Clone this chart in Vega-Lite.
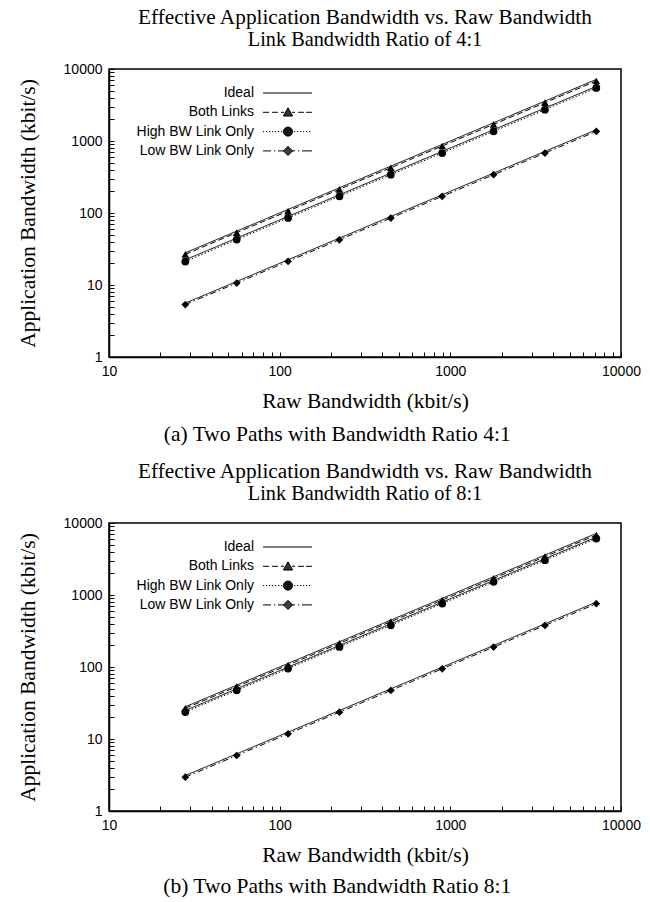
{
  "$schema": "https://vega.github.io/schema/vega-lite/v6.json",
  "padding": {"left": 16, "top": 6, "right": 5, "bottom": 2},
  "spacing": 14,
  "datasets": {
    "a": [
      {"s":"Ideal","l":"It","x":28,"y":28},{"s":"Ideal","l":"It","x":56,"y":56},{"s":"Ideal","l":"It","x":112,"y":112},{"s":"Ideal","l":"It","x":224,"y":224},{"s":"Ideal","l":"It","x":448,"y":448},{"s":"Ideal","l":"It","x":896,"y":896},{"s":"Ideal","l":"It","x":1792,"y":1792},{"s":"Ideal","l":"It","x":3584,"y":3584},{"s":"Ideal","l":"It","x":7168,"y":7168},
      {"s":"Ideal","l":"Ih","x":28,"y":22.4},{"s":"Ideal","l":"Ih","x":56,"y":44.8},{"s":"Ideal","l":"Ih","x":112,"y":89.6},{"s":"Ideal","l":"Ih","x":224,"y":179.2},{"s":"Ideal","l":"Ih","x":448,"y":358.4},{"s":"Ideal","l":"Ih","x":896,"y":716.8},{"s":"Ideal","l":"Ih","x":1792,"y":1433.6},{"s":"Ideal","l":"Ih","x":3584,"y":2867.2},{"s":"Ideal","l":"Ih","x":7168,"y":5734.4},
      {"s":"Ideal","l":"Il","x":28,"y":5.6},{"s":"Ideal","l":"Il","x":56,"y":11.2},{"s":"Ideal","l":"Il","x":112,"y":22.4},{"s":"Ideal","l":"Il","x":224,"y":44.8},{"s":"Ideal","l":"Il","x":448,"y":89.6},{"s":"Ideal","l":"Il","x":896,"y":179.2},{"s":"Ideal","l":"Il","x":1792,"y":358.4},{"s":"Ideal","l":"Il","x":3584,"y":716.8},{"s":"Ideal","l":"Il","x":7168,"y":1433.6},
      {"s":"Both Links","l":"B","x":28,"y":26.6},{"s":"Both Links","l":"B","x":56,"y":53.4},{"s":"Both Links","l":"B","x":112,"y":106.3},{"s":"Both Links","l":"B","x":224,"y":213.5},{"s":"Both Links","l":"B","x":448,"y":425},{"s":"Both Links","l":"B","x":896,"y":852},{"s":"Both Links","l":"B","x":1792,"y":1701},{"s":"Both Links","l":"B","x":3584,"y":3405},{"s":"Both Links","l":"B","x":7168,"y":6815},
      {"s":"High BW Link Only","l":"H","x":28,"y":21.2},{"s":"High BW Link Only","l":"H","x":56,"y":42.7},{"s":"High BW Link Only","l":"H","x":112,"y":85.3},{"s":"High BW Link Only","l":"H","x":224,"y":170.4},{"s":"High BW Link Only","l":"H","x":448,"y":341},{"s":"High BW Link Only","l":"H","x":896,"y":681},{"s":"High BW Link Only","l":"H","x":1792,"y":1361},{"s":"High BW Link Only","l":"H","x":3584,"y":2722},{"s":"High BW Link Only","l":"H","x":7168,"y":5450},
      {"s":"Low BW Link Only","l":"L","x":28,"y":5.35},{"s":"Low BW Link Only","l":"L","x":56,"y":10.65},{"s":"Low BW Link Only","l":"L","x":112,"y":21.3},{"s":"Low BW Link Only","l":"L","x":224,"y":42.5},{"s":"Low BW Link Only","l":"L","x":448,"y":85.1},{"s":"Low BW Link Only","l":"L","x":896,"y":170.2},{"s":"Low BW Link Only","l":"L","x":1792,"y":340},{"s":"Low BW Link Only","l":"L","x":3584,"y":680},{"s":"Low BW Link Only","l":"L","x":7168,"y":1360}
    ],
    "b": [
      {"s":"Ideal","l":"It","x":28,"y":28},{"s":"Ideal","l":"It","x":56,"y":56},{"s":"Ideal","l":"It","x":112,"y":112},{"s":"Ideal","l":"It","x":224,"y":224},{"s":"Ideal","l":"It","x":448,"y":448},{"s":"Ideal","l":"It","x":896,"y":896},{"s":"Ideal","l":"It","x":1792,"y":1792},{"s":"Ideal","l":"It","x":3584,"y":3584},{"s":"Ideal","l":"It","x":7168,"y":7168},
      {"s":"Ideal","l":"Ih","x":28,"y":24.9},{"s":"Ideal","l":"Ih","x":56,"y":49.8},{"s":"Ideal","l":"Ih","x":112,"y":99.6},{"s":"Ideal","l":"Ih","x":224,"y":199.1},{"s":"Ideal","l":"Ih","x":448,"y":398.2},{"s":"Ideal","l":"Ih","x":896,"y":796.4},{"s":"Ideal","l":"Ih","x":1792,"y":1592.9},{"s":"Ideal","l":"Ih","x":3584,"y":3185.8},{"s":"Ideal","l":"Ih","x":7168,"y":6371.6},
      {"s":"Ideal","l":"Il","x":28,"y":3.11},{"s":"Ideal","l":"Il","x":56,"y":6.22},{"s":"Ideal","l":"Il","x":112,"y":12.44},{"s":"Ideal","l":"Il","x":224,"y":24.89},{"s":"Ideal","l":"Il","x":448,"y":49.78},{"s":"Ideal","l":"Il","x":896,"y":99.56},{"s":"Ideal","l":"Il","x":1792,"y":199.1},{"s":"Ideal","l":"Il","x":3584,"y":398.2},{"s":"Ideal","l":"Il","x":7168,"y":796.4},
      {"s":"Both Links","l":"B","x":28,"y":26.7},{"s":"Both Links","l":"B","x":56,"y":53.3},{"s":"Both Links","l":"B","x":112,"y":106.5},{"s":"Both Links","l":"B","x":224,"y":213},{"s":"Both Links","l":"B","x":448,"y":426},{"s":"Both Links","l":"B","x":896,"y":851},{"s":"Both Links","l":"B","x":1792,"y":1703},{"s":"Both Links","l":"B","x":3584,"y":3404},{"s":"Both Links","l":"B","x":7168,"y":6810},
      {"s":"High BW Link Only","l":"H","x":28,"y":23.7},{"s":"High BW Link Only","l":"H","x":56,"y":47.5},{"s":"High BW Link Only","l":"H","x":112,"y":95.1},{"s":"High BW Link Only","l":"H","x":224,"y":190.2},{"s":"High BW Link Only","l":"H","x":448,"y":380},{"s":"High BW Link Only","l":"H","x":896,"y":761},{"s":"High BW Link Only","l":"H","x":1792,"y":1522},{"s":"High BW Link Only","l":"H","x":3584,"y":3044},{"s":"High BW Link Only","l":"H","x":7168,"y":6090},
      {"s":"Low BW Link Only","l":"L","x":28,"y":2.95},{"s":"Low BW Link Only","l":"L","x":56,"y":5.9},{"s":"Low BW Link Only","l":"L","x":112,"y":11.8},{"s":"Low BW Link Only","l":"L","x":224,"y":23.6},{"s":"Low BW Link Only","l":"L","x":448,"y":47.2},{"s":"Low BW Link Only","l":"L","x":896,"y":94.4},{"s":"Low BW Link Only","l":"L","x":1792,"y":189},{"s":"Low BW Link Only","l":"L","x":3584,"y":378},{"s":"Low BW Link Only","l":"L","x":7168,"y":756}
    ]
  },
  "vconcat": [
    {
      "title": {"text": "(a) Two Paths with Bandwidth Ratio 4:1", "orient": "bottom", "anchor": "middle", "offset": 12, "dx": -19, "fontSize": 21.5},
      "vconcat": [
        {
          "width": 512, "height": 288,
          "title": {"text": "Effective Application Bandwidth vs. Raw Bandwidth", "subtitle": "Link Bandwidth Ratio of 4:1"},
          "data": {"name": "a"},
          "encoding": {
            "x": {"field": "x", "type": "quantitative", "scale": {"type": "log", "domain": [10, 10000], "nice": false},
              "axis": {"title": "Raw Bandwidth (kbit/s)", "ticks": true, "tickSize": -5, "tickColor": "black", "tickOpacity": 1, "tickWidth": 1, "values": [10,20,30,40,50,60,70,80,90,100,200,300,400,500,600,700,800,900,1000,2000,3000,4000,5000,6000,7000,8000,9000,10000], "format": "d", "labelExpr": "indexof([10,100,1000,10000], datum.value) >= 0 ? datum.label : ''",
                "encode": {"ticks": {"update": {"y2": {"signal": "indexof([10,100,1000,10000], datum.value) >= 0 ? -10 : -5"}}}}}},
            "y": {"field": "y", "type": "quantitative", "scale": {"type": "log", "domain": [1, 10000], "nice": false},
              "axis": {"title": "Application Bandwidth (kbit/s)", "ticks": true, "tickSize": -5, "tickColor": "black", "tickOpacity": 1, "tickWidth": 1, "values": [1,2,3,4,5,6,7,8,9,10,20,30,40,50,60,70,80,90,100,200,300,400,500,600,700,800,900,1000,2000,3000,4000,5000,6000,7000,8000,9000,10000], "format": "d", "labelExpr": "indexof([1,10,100,1000,10000], datum.value) >= 0 ? datum.label : ''",
                "encode": {"ticks": {"update": {"x2": {"signal": "indexof([1,10,100,1000,10000], datum.value) >= 0 ? 10 : 5"}}}}}}
          },
          "layer": [
            {
              "mark": {"type": "line", "color": "black", "strokeWidth": 1},
              "encoding": {
                "detail": {"field": "l"},
                "strokeDash": {"field": "s", "type": "nominal", "legend": null,
                  "scale": {"domain": ["Ideal", "Both Links", "High BW Link Only", "Low BW Link Only"], "range": [[1, 0], [6, 3], [1.5, 2], [6, 3, 1.5, 3]]}}
              }
            },
            {
              "transform": [{"filter": "datum.s != 'Ideal'"}],
              "mark": {"type": "point", "filled": true, "color": "black", "opacity": 1, "size": 60},
              "encoding": {
                "shape": {"field": "s", "type": "nominal", "legend": null,
                  "scale": {"domain": ["Both Links", "High BW Link Only", "Low BW Link Only"], "range": ["triangle-up", "circle", "diamond"]}}
              }
            },
            {
              "mark": {"type": "point", "filled": false, "color": "black", "strokeWidth": 1, "opacity": 0},
              "encoding": {
                "shape": {"field": "s", "type": "nominal",
                  "scale": {"domain": ["Ideal", "Both Links", "High BW Link Only", "Low BW Link Only"],
                    "range": [
                      "M26.4,0L36.2,0",
                      "M26.4,0L27.6,0M28.2,0L29.4,0M30,0L30.6,0M32.2,0L32.8,0M33.4,0L34.6,0M35,0L36.2,0M30.5,0.7L31.4,-0.9L32.3,0.7ZM30.5,0.7L32.3,0.7M30.61,0.5L32.19,0.5M30.73,0.3L32.07,0.3M30.84,0.1L31.96,0.1M30.95,-0.1L31.85,-0.1M31.06,-0.3L31.74,-0.3M31.18,-0.5L31.62,-0.5M31.29,-0.7L31.51,-0.7",
                      "M26.4,0L26.65,0M27,0L27.25,0M27.6,0L27.85,0M28.2,0L28.45,0M28.8,0L29.05,0M29.4,0L29.65,0M30,0L30.25,0M32.6,0L32.85,0M33.2,0L33.45,0M33.8,0L34.05,0M34.4,0L34.65,0M35,0L35.25,0M35.6,0L35.85,0M30.5,0A0.9,0.9 0 1,0 32.3,0A0.9,0.9 0 1,0 30.5,0ZM30.5,0L32.3,0M30.52,0.2L32.28,0.2M30.52,-0.2L32.28,-0.2M30.59,0.4L32.21,0.4M30.59,-0.4L32.21,-0.4M30.73,0.6L32.07,0.6M30.73,-0.6L32.07,-0.6M30.99,0.8L31.81,0.8M30.99,-0.8L31.81,-0.8",
                      "M26.4,0L28,0M28.6,0L28.85,0M29.4,0L30.6,0M32.2,0L32.8,0M33.4,0L33.65,0M34.2,0L36.2,0M31.4,-0.9L32.3,0L31.4,0.9L30.5,0ZM30.5,0L32.3,0M30.7,0.2L32.1,0.2M30.7,-0.2L32.1,-0.2M30.9,0.4L31.9,0.4M30.9,-0.4L31.9,-0.4M31.1,0.6L31.7,0.6M31.1,-0.6L31.7,-0.6M31.3,0.8L31.5,0.8M31.3,-0.8L31.5,-0.8"
                    ]},
                  "legend": {"title": null, "orient": "none", "legendX": 15, "legendY": 17, "labelAlign": "right", "labelOffset": 116, "symbolSize": 100, "rowPadding": 5.3, "padding": 0,
                    "symbolStrokeColor": "black", "symbolStrokeWidth": 1, "symbolOpacity": 1}
                }
              }
            }
          ],
          "resolve": {"scale": {"shape": "independent"}}
        }
      ]
    },
    {
      "title": {"text": "(b) Two Paths with Bandwidth Ratio 8:1", "orient": "bottom", "anchor": "middle", "offset": 10, "dx": -19, "fontSize": 21.5},
      "vconcat": [
        {
          "width": 512, "height": 288,
          "title": {"text": "Effective Application Bandwidth vs. Raw Bandwidth", "subtitle": "Link Bandwidth Ratio of 8:1"},
          "data": {"name": "b"},
          "encoding": {
            "x": {"field": "x", "type": "quantitative", "scale": {"type": "log", "domain": [10, 10000], "nice": false},
              "axis": {"title": "Raw Bandwidth (kbit/s)", "ticks": true, "tickSize": -5, "tickColor": "black", "tickOpacity": 1, "tickWidth": 1, "values": [10,20,30,40,50,60,70,80,90,100,200,300,400,500,600,700,800,900,1000,2000,3000,4000,5000,6000,7000,8000,9000,10000], "format": "d", "labelExpr": "indexof([10,100,1000,10000], datum.value) >= 0 ? datum.label : ''",
                "encode": {"ticks": {"update": {"y2": {"signal": "indexof([10,100,1000,10000], datum.value) >= 0 ? -10 : -5"}}}}}},
            "y": {"field": "y", "type": "quantitative", "scale": {"type": "log", "domain": [1, 10000], "nice": false},
              "axis": {"title": "Application Bandwidth (kbit/s)", "ticks": true, "tickSize": -5, "tickColor": "black", "tickOpacity": 1, "tickWidth": 1, "values": [1,2,3,4,5,6,7,8,9,10,20,30,40,50,60,70,80,90,100,200,300,400,500,600,700,800,900,1000,2000,3000,4000,5000,6000,7000,8000,9000,10000], "format": "d", "labelExpr": "indexof([1,10,100,1000,10000], datum.value) >= 0 ? datum.label : ''",
                "encode": {"ticks": {"update": {"x2": {"signal": "indexof([1,10,100,1000,10000], datum.value) >= 0 ? 10 : 5"}}}}}}
          },
          "layer": [
            {
              "mark": {"type": "line", "color": "black", "strokeWidth": 1},
              "encoding": {
                "detail": {"field": "l"},
                "strokeDash": {"field": "s", "type": "nominal", "legend": null,
                  "scale": {"domain": ["Ideal", "Both Links", "High BW Link Only", "Low BW Link Only"], "range": [[1, 0], [6, 3], [1.5, 2], [6, 3, 1.5, 3]]}}
              }
            },
            {
              "transform": [{"filter": "datum.s != 'Ideal'"}],
              "mark": {"type": "point", "filled": true, "color": "black", "opacity": 1, "size": 60},
              "encoding": {
                "shape": {"field": "s", "type": "nominal", "legend": null,
                  "scale": {"domain": ["Both Links", "High BW Link Only", "Low BW Link Only"], "range": ["triangle-up", "circle", "diamond"]}}
              }
            },
            {
              "mark": {"type": "point", "filled": false, "color": "black", "strokeWidth": 1, "opacity": 0},
              "encoding": {
                "shape": {"field": "s", "type": "nominal",
                  "scale": {"domain": ["Ideal", "Both Links", "High BW Link Only", "Low BW Link Only"],
                    "range": [
                      "M26.4,0L36.2,0",
                      "M26.4,0L27.6,0M28.2,0L29.4,0M30,0L30.6,0M32.2,0L32.8,0M33.4,0L34.6,0M35,0L36.2,0M30.5,0.7L31.4,-0.9L32.3,0.7ZM30.5,0.7L32.3,0.7M30.61,0.5L32.19,0.5M30.73,0.3L32.07,0.3M30.84,0.1L31.96,0.1M30.95,-0.1L31.85,-0.1M31.06,-0.3L31.74,-0.3M31.18,-0.5L31.62,-0.5M31.29,-0.7L31.51,-0.7",
                      "M26.4,0L26.65,0M27,0L27.25,0M27.6,0L27.85,0M28.2,0L28.45,0M28.8,0L29.05,0M29.4,0L29.65,0M30,0L30.25,0M32.6,0L32.85,0M33.2,0L33.45,0M33.8,0L34.05,0M34.4,0L34.65,0M35,0L35.25,0M35.6,0L35.85,0M30.5,0A0.9,0.9 0 1,0 32.3,0A0.9,0.9 0 1,0 30.5,0ZM30.5,0L32.3,0M30.52,0.2L32.28,0.2M30.52,-0.2L32.28,-0.2M30.59,0.4L32.21,0.4M30.59,-0.4L32.21,-0.4M30.73,0.6L32.07,0.6M30.73,-0.6L32.07,-0.6M30.99,0.8L31.81,0.8M30.99,-0.8L31.81,-0.8",
                      "M26.4,0L28,0M28.6,0L28.85,0M29.4,0L30.6,0M32.2,0L32.8,0M33.4,0L33.65,0M34.2,0L36.2,0M31.4,-0.9L32.3,0L31.4,0.9L30.5,0ZM30.5,0L32.3,0M30.7,0.2L32.1,0.2M30.7,-0.2L32.1,-0.2M30.9,0.4L31.9,0.4M30.9,-0.4L31.9,-0.4M31.1,0.6L31.7,0.6M31.1,-0.6L31.7,-0.6M31.3,0.8L31.5,0.8M31.3,-0.8L31.5,-0.8"
                    ]},
                  "legend": {"title": null, "orient": "none", "legendX": 15, "legendY": 17, "labelAlign": "right", "labelOffset": 116, "symbolSize": 100, "rowPadding": 5.3, "padding": 0,
                    "symbolStrokeColor": "black", "symbolStrokeWidth": 1, "symbolOpacity": 1}
                }
              }
            }
          ],
          "resolve": {"scale": {"shape": "independent"}}
        }
      ]
    }
  ],
  "resolve": {"scale": {"shape": "independent", "strokeDash": "independent"}, "legend": {"shape": "independent"}},
  "config": {
    "view": {"stroke": "black", "strokeWidth": 1.5},
    "axis": {"grid": false, "zindex": 1, "domainColor": "black", "domainWidth": 1.5, "tickColor": "black", "tickWidth": 1, "tickOpacity": 1, "labelPadding": 12, "labelFont": "Liberation Sans", "labelFontSize": 14, "labelColor": "black", "labelFlush": false, "labelOverlap": false, "titleFont": "Liberation Serif", "titleFontSize": 21.5, "titleFontWeight": "normal", "titleColor": "black", "titlePadding": 12},
    "axisY": {"titlePadding": 24},
    "title": {"font": "Liberation Serif", "fontSize": 21.3, "fontWeight": "normal", "color": "black", "subtitleFont": "Liberation Serif", "subtitleFontSize": 20.3, "subtitleColor": "black", "subtitlePadding": 2, "offset": 11.5, "anchor": "middle"},
    "legend": {"labelFont": "Liberation Sans", "labelFontSize": 14, "labelColor": "black", "labelLimit": 300}
  }
}
